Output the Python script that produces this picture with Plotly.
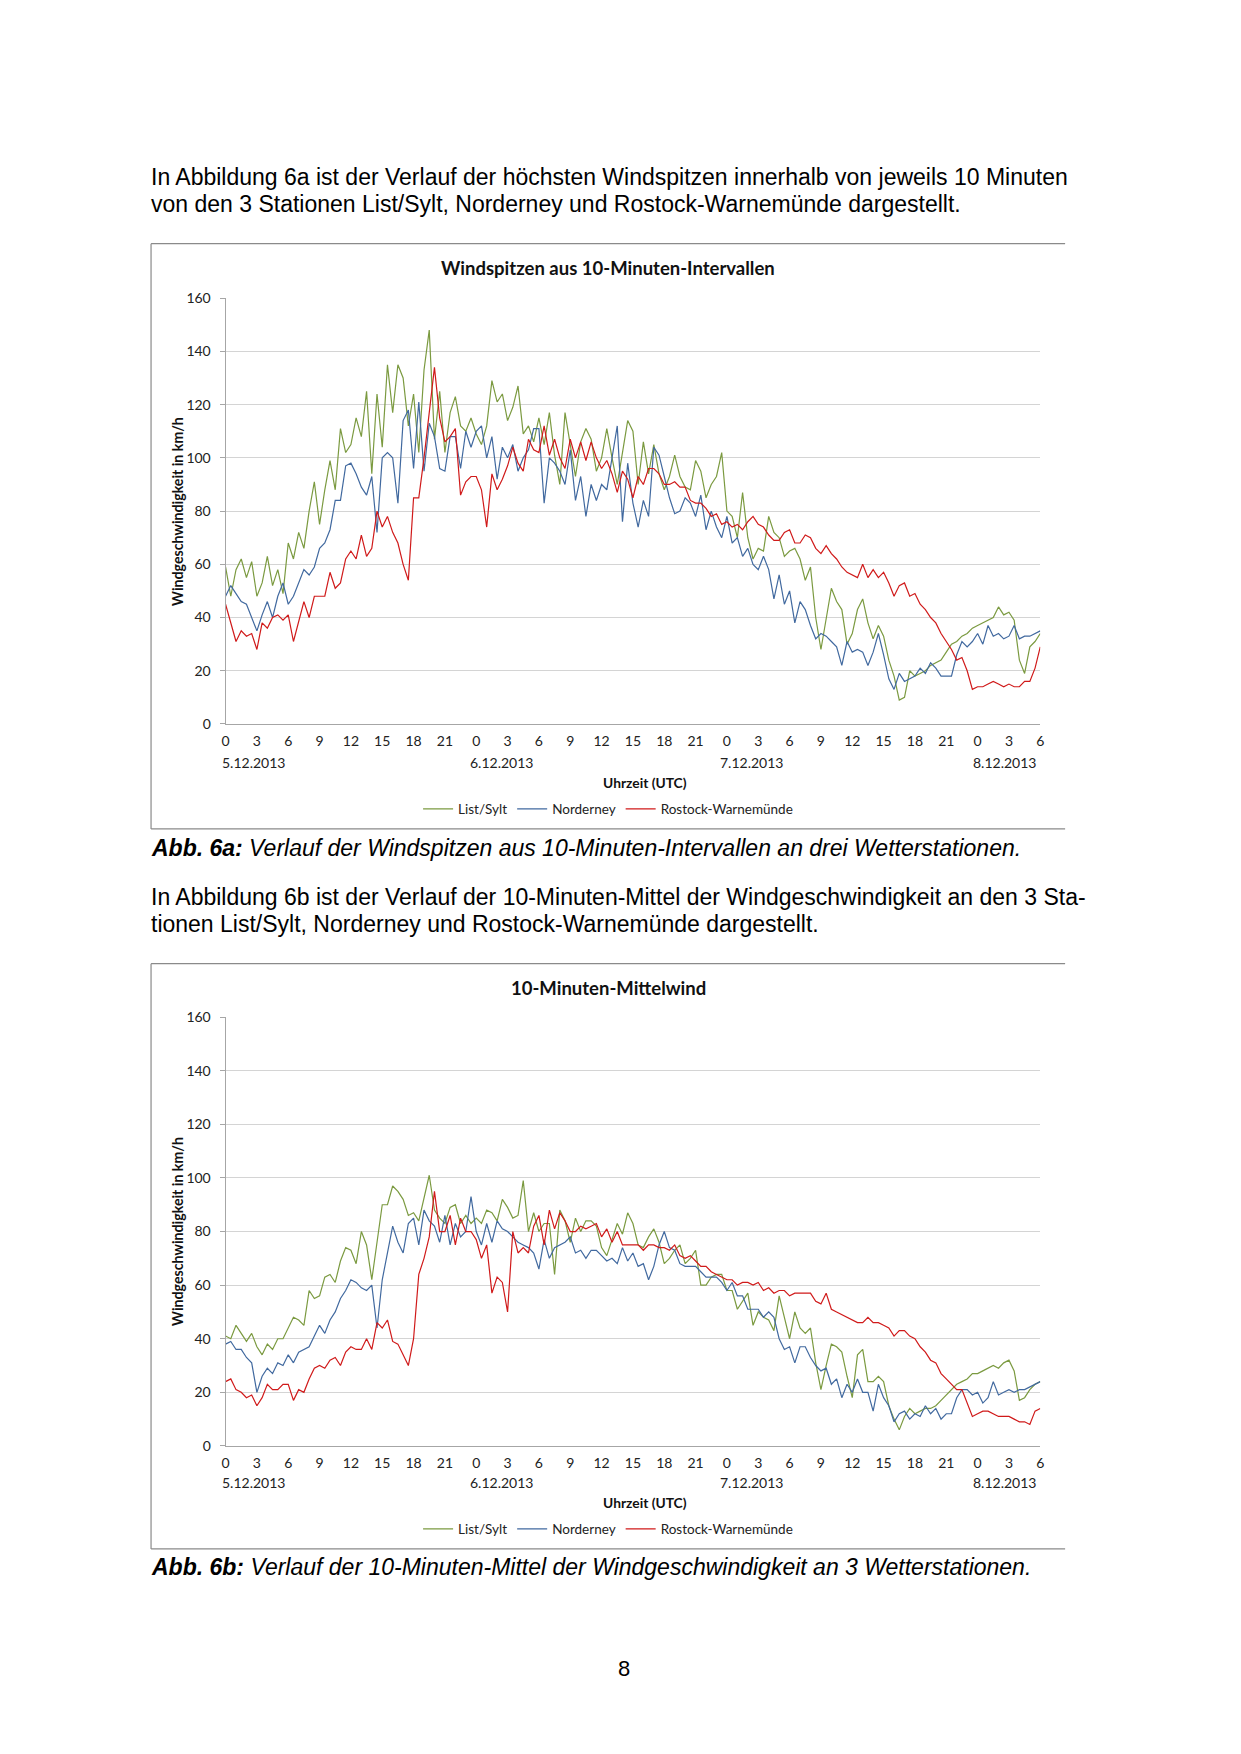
import plotly.graph_objects as go

# ---------------- data (10-min series read at 30-min resolution) ----------------
HOURS = [i * 0.5 for i in range(157)]          # hours since 5.12.2013 00 UTC
TICK_HOURS = [0, 3, 6, 9, 12, 15, 18, 21, 24, 27, 30, 33, 36, 39, 42, 45, 48, 51,
              54, 57, 60, 63, 66, 69, 72, 75, 78]
TICK_TEXT = ["0", "3", "6", "9", "12", "15", "18", "21", "0", "3", "6", "9", "12", "15",
             "18", "21", "0", "3", "6", "9", "12", "15", "18", "21", "0", "3", "6"]
DATE_LABELS = ["5.12.2013", "6.12.2013", "7.12.2013", "8.12.2013"]
DATE_HOURS = [2.7, 26.4, 50.4, 74.6]
STATIONS = ["List/Sylt", "Norderney", "Rostock-Warnemünde"]

peak_list = [59, 48, 58, 62, 55, 61, 48, 53, 63, 52, 58, 49, 68, 62, 72, 66, 80, 91,
             75, 88, 99, 88, 111, 102, 105, 115, 108, 125, 94, 124, 104, 135, 117, 135, 130, 112,
             124, 102, 133, 148, 107, 125, 102, 117, 123, 112, 110, 115, 109, 105, 112, 129, 121, 124,
             114, 119, 127, 109, 112, 106, 115, 105, 117, 101, 90, 117, 105, 93, 106, 111, 107, 95,
             100, 111, 100, 90, 102, 114, 110, 90, 106, 94, 105, 94, 88, 93, 101, 93, 89, 88,
             99, 95, 85, 90, 93, 102, 80, 78, 70, 87, 70, 62, 66, 65, 78, 72,
             70, 63, 65, 66, 62, 54, 59, 40, 28, 40, 51, 46, 43, 30, 34, 43, 47, 38,
             32, 37, 33, 24, 18, 9, 10, 20, 18, 19, 20, 22, 23, 24, 27, 30, 31, 33,
             34, 36, 37, 38, 39, 40, 44, 41, 42, 39, 24, 19, 29, 31, 34]
peak_norderney = [48, 52, 49, 46, 45, 40, 35, 41, 46, 40, 48, 53, 45, 48, 53, 58, 56, 59,
                  66, 68, 73, 84, 84, 97, 98, 94, 89, 86, 93, 72, 100, 102, 100, 83, 114, 118,
                  96, 121, 95, 113, 108, 96, 95, 108, 108, 96, 110, 104, 110, 112, 100, 108, 92, 104,
                  100, 105, 95, 100, 103, 111, 111, 83, 100, 98, 95, 90, 103, 84, 93, 78, 90, 84,
                  90, 88, 100, 112, 76, 98, 83, 74, 84, 78, 104, 101, 93, 85, 79, 80, 85, 83,
                  78, 86, 73, 80, 74, 70, 78, 68, 70, 63, 66, 60, 58, 63, 58, 47,
                  56, 45, 50, 38, 46, 43, 37, 32, 34, 33, 31, 29, 22, 31, 27, 28, 27, 22,
                  27, 34, 26, 17, 13, 19, 16, 17, 18, 21, 19, 23, 21, 18, 18, 18, 26, 31,
                  29, 31, 34, 30, 37, 33, 34, 32, 33, 37, 32, 33, 33, 34, 35]
peak_rostock = [45, 38, 31, 35, 33, 34, 28, 38, 36, 40, 41, 39, 41, 31, 39, 46, 40, 48,
                48, 48, 57, 51, 53, 62, 65, 62, 71, 63, 66, 80, 74, 78, 72, 68, 60, 54,
                85, 85, 100, 117, 134, 115, 106, 108, 111, 86, 91, 93, 93, 88, 74, 94, 88, 92,
                97, 104, 98, 95, 107, 103, 102, 112, 101, 107, 100, 96, 107, 100, 106, 99, 106, 100,
                96, 99, 94, 87, 95, 92, 85, 93, 90, 96, 96, 94, 90, 90, 91, 89, 89, 84,
                83, 83, 81, 78, 79, 75, 76, 74, 75, 73, 76, 78, 75, 74, 71, 69,
                69, 72, 73, 68, 68, 71, 70, 66, 64, 67, 64, 62, 59, 57, 56, 55, 60, 55,
                58, 55, 57, 53, 48, 52, 53, 48, 49, 45, 43, 40, 38, 34, 31, 28, 24, 25,
                20, 13, 14, 14, 15, 16, 15, 14, 15, 14, 14, 16, 16, 21, 29]

mean_list = [41, 40, 45, 42, 39, 42, 37, 34, 38, 36, 40, 40, 44, 48, 47, 45, 58, 55,
             56, 63, 64, 61, 69, 74, 73, 68, 80, 75, 62, 76, 90, 90, 97, 95, 92, 86,
             87, 84, 93, 101, 88, 85, 83, 89, 90, 83, 86, 83, 85, 83, 88, 87, 84, 92,
             89, 85, 86, 99, 80, 87, 80, 83, 83, 64, 88, 84, 76, 85, 80, 84, 84, 82,
             74, 71, 77, 83, 79, 87, 83, 75, 74, 78, 81, 76, 68, 70, 73, 75, 68, 70,
             73, 60, 60, 63, 64, 64, 58, 58, 51, 54, 57, 45, 50, 48, 47, 43,
             56, 48, 40, 50, 44, 42, 44, 31, 21, 30, 38, 37, 35, 26, 18, 34, 36, 24,
             24, 26, 24, 15, 10, 6, 11, 14, 12, 13, 14, 14, 15, 17, 19, 21, 23, 24,
             25, 27, 27, 28, 29, 30, 29, 31, 32, 28, 17, 18, 21, 23, 24]
mean_norderney = [38, 39, 36, 36, 33, 31, 20, 26, 29, 27, 31, 30, 34, 31, 35, 36, 37, 41,
                  45, 42, 47, 50, 55, 58, 62, 61, 59, 58, 60, 44, 62, 72, 82, 76, 72, 83,
                  85, 75, 88, 84, 82, 76, 86, 75, 83, 78, 80, 93, 80, 75, 83, 76, 84, 81,
                  80, 78, 76, 75, 74, 72, 66, 77, 70, 74, 75, 76, 78, 72, 73, 70, 73, 73,
                  71, 69, 70, 68, 74, 69, 72, 67, 68, 62, 67, 75, 80, 74, 73, 68, 67, 67,
                  67, 65, 63, 63, 63, 61, 58, 61, 56, 56, 51, 51, 51, 48, 50, 48,
                  40, 36, 37, 31, 37, 37, 33, 30, 28, 29, 23, 25, 18, 23, 20, 25, 20, 20,
                  13, 23, 18, 15, 9, 12, 13, 10, 12, 11, 15, 12, 14, 10, 12, 12, 18, 21,
                  21, 19, 20, 16, 18, 24, 19, 20, 21, 20, 21, 21, 22, 23, 24]
mean_rostock = [24, 25, 21, 20, 18, 19, 15, 18, 23, 21, 21, 23, 23, 17, 21, 20, 25, 29,
                30, 29, 32, 33, 30, 35, 37, 36, 36, 40, 36, 46, 44, 47, 39, 38, 34, 30,
                40, 64, 70, 78, 95, 80, 80, 86, 75, 85, 80, 80, 77, 70, 75, 57, 63, 61,
                50, 80, 72, 74, 72, 82, 86, 75, 88, 81, 87, 84, 80, 80, 82, 81, 82, 83,
                78, 81, 76, 80, 75, 75, 75, 75, 73, 75, 75, 74, 74, 73, 75, 71, 70, 71,
                69, 67, 67, 65, 64, 63, 62, 62, 60, 61, 61, 60, 61, 58, 59, 57,
                58, 58, 56, 57, 57, 57, 57, 54, 53, 57, 51, 50, 49, 48, 47, 46, 46, 48,
                46, 46, 45, 44, 41, 43, 43, 41, 40, 37, 35, 32, 31, 27, 25, 23, 21, 21,
                16, 11, 12, 13, 13, 12, 11, 11, 11, 10, 9, 9, 8, 13, 14]

# ---------------- styling ----------------
W, H = 1241, 1754
COLORS = ["#7b9a40", "#41699f", "#d01a1a"]
CF = "Lato"
BF = "Liberation Sans"


def px(x):
    return x / W


def py(y):
    return 1 - y / H


fig = go.Figure()
series = [(peak_list, peak_norderney, peak_rostock, "x", "y", "legend"),
          (mean_list, mean_norderney, mean_rostock, "x2", "y2", "legend2")]
for s in series:
    vals3 = s[:3]
    xa, ya, lg = s[3], s[4], s[5]
    for name, vals, col in zip(STATIONS, vals3, COLORS):
        fig.add_trace(go.Scatter(x=HOURS, y=vals, mode="lines", name=name,
                                 line=dict(color=col, width=1.2),
                                 xaxis=xa, yaxis=ya, legend=lg, hoverinfo="skip"))

offsets = [0, 727]
titles = ["Windspitzen aus 10-Minuten-Intervallen", "10-Minuten-Mittelwind"]
xaxis_common = dict(range=[0, 78], tickmode="array", tickvals=TICK_HOURS, ticktext=TICK_TEXT,
                    showgrid=False, zeroline=False, showline=True, linecolor="#a6a6a6",
                    linewidth=1, ticks="outside", ticklen=4, tickcolor="rgba(0,0,0,0)",
                    tickfont=dict(family=CF, size=14, color="#222"))
yaxis_common = dict(range=[0, 160], dtick=20, tick0=0, showgrid=True, gridcolor="#d4d4d4",
                    gridwidth=1, zeroline=False, showline=True, linecolor="#a6a6a6",
                    linewidth=1, ticks="outside", ticklen=5, tickcolor="#a6a6a6",
                    ticklabelstandoff=6, tickfont=dict(family=CF, size=14, color="#222"))

layout = dict(width=W, height=H, margin=dict(l=0, r=0, t=0, b=0),
              paper_bgcolor="white", plot_bgcolor="white", showlegend=True)
layout["xaxis"] = dict(xaxis_common, domain=[px(223), px(1043)], anchor="y")
layout["yaxis"] = dict(yaxis_common, domain=[py(722), py(292)], anchor="x")
layout["xaxis2"] = dict(xaxis_common, domain=[px(223), px(1043)], anchor="y2")
layout["yaxis2"] = dict(yaxis_common, domain=[py(1451), py(1018)], anchor="x2")
for key, off in (("legend", 0), ("legend2", 727)):
    layout[key] = dict(orientation="h", x=px(608), xanchor="center", y=py(808 + off),
                       yanchor="middle", font=dict(family=CF, size=13.5, color="#222"),
                       itemwidth=30, bgcolor="rgba(0,0,0,0)", traceorder="normal")
fig.update_layout(**layout)

ann = []
shapes = []
for i, off in enumerate(offsets):
    xr = "x" if i == 0 else "x2"
    ann.append(dict(text="<b>" + titles[i] + "</b>", x=px(608), y=py(262 + off), xref="paper",
                    yref="paper", showarrow=False, xanchor="center", yanchor="middle",
                    font=dict(family=CF, size=18.5, color="#111")))
    ann.append(dict(text="<b>Windgeschwindigkeit in km/h</b>", x=px(174), y=py(507 + off),
                    xref="paper", yref="paper", showarrow=False, textangle=-90,
                    xanchor="center", yanchor="middle", font=dict(family=CF, size=14.2, color="#111")))
    ann.append(dict(text="<b>Uhrzeit (UTC)</b>", x=px(645), y=py(781 + off), xref="paper",
                    yref="paper", showarrow=False, xanchor="center", yanchor="middle",
                    font=dict(family=CF, size=13.8, color="#111")))
    for lab, hx in zip(DATE_LABELS, DATE_HOURS):
        ann.append(dict(text=lab, x=hx, y=py(761 + off), xref=xr, yref="paper",
                        showarrow=False, xanchor="center", yanchor="middle",
                        font=dict(family=CF, size=14, color="#222")))
    # chart frame (left, top, bottom)
    for (x0, y0, x1, y1) in ((148, 237, 148, 828), (148, 237, 1068, 237), (148, 828, 1068, 828)):
        shapes.append(dict(type="line", xref="paper", yref="paper", x0=px(x0), x1=px(x1),
                           y0=py(y0 + off), y1=py(y1 + off), line=dict(color="#8a8a8a", width=1.2)))

body = [("In Abbildung 6a ist der Verlauf der höchsten Windspitzen innerhalb von jeweils 10 Minuten", 170),
        ("von den 3 Stationen List/Sylt, Norderney und Rostock-Warnemünde dargestellt.", 197),
        ("In Abbildung 6b ist der Verlauf der 10-Minuten-Mittel der Windgeschwindigkeit an den 3 Sta-", 897),
        ("tionen List/Sylt, Norderney und Rostock-Warnemünde dargestellt.", 924)]
for txt, yy in body:
    ann.append(dict(text=txt, x=px(146), y=py(yy), xref="paper", yref="paper", showarrow=False,
                    xanchor="left", yanchor="middle", font=dict(family=BF, size=23, color="#000")))

caps = [("<b><i>Abb. 6a:</i></b><i> Verlauf der Windspitzen aus 10-Minuten-Intervallen an drei Wetterstationen.</i>", 847),
        ("<b><i>Abb. 6b:</i></b><i> Verlauf der 10-Minuten-Mittel der Windgeschwindigkeit an 3 Wetterstationen.</i>", 1573)]
for txt, yy in caps:
    ann.append(dict(text=txt, x=px(146), y=py(yy), xref="paper", yref="paper", showarrow=False,
                    xanchor="left", yanchor="middle", font=dict(family=BF, size=23, color="#000")))

ann.append(dict(text="8", x=px(624), y=py(1676), xref="paper", yref="paper", showarrow=False,
                xanchor="center", yanchor="middle", font=dict(family=BF, size=22, color="#000")))

fig.update_layout(annotations=ann, shapes=shapes)
fig.write_html("out.html", config={"displayModeBar": False},
               post_script="document.body.style.margin='0';document.body.style.overflow='hidden';")
